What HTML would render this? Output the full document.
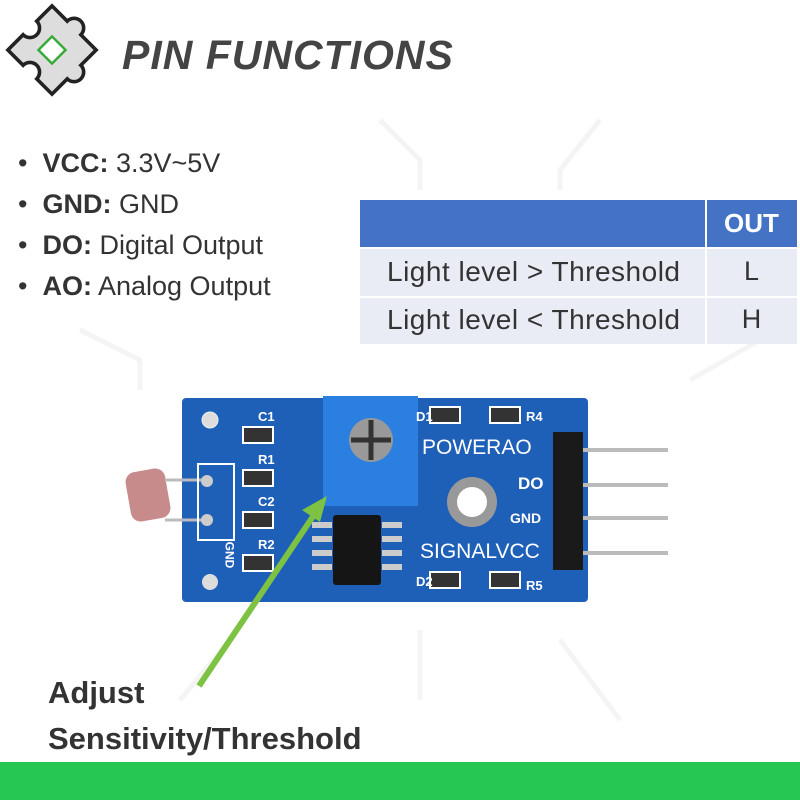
<!DOCTYPE html>
<html><head><meta charset="utf-8"><style>
body{margin:0;width:800px;height:800px;background:#fff;position:relative;overflow:hidden;font-family:"Liberation Sans",sans-serif}
.a{position:absolute}
.t{font-family:"Liberation Sans",sans-serif;color:#333;font-size:27px}
.w{color:#fff;font-weight:bold;font-size:13px;position:absolute;font-family:"Liberation Sans",sans-serif}
</style></head><body>
<svg class="a" style="left:0;top:0" width="800" height="800">
<g stroke="#f4f4f4" stroke-width="5" fill="none">
<path d="M380 120 L420 160 L420 190"/><path d="M600 120 L560 170 L560 190"/><path d="M80 330 L140 360 L140 390"/><path d="M690 380 L760 340"/><path d="M230 640 L180 700"/><path d="M560 640 L620 720"/><path d="M420 630 L420 700"/>
</g>
<g transform="translate(52,50) rotate(45) scale(1.2)">
<path d="M-26 -26 H-8 A8 8 0 1 1 8 -26 H26 V-8 A8 8 0 1 1 26 8 V26 H8 A8 8 0 1 0 -8 26 H-26 V8 A8 8 0 1 0 -26 -8 Z" fill="#ddd" stroke="#222" stroke-width="3"/>
<rect x="-8" y="-8" width="16" height="16" fill="#fff" stroke="#3a3" stroke-width="2"/>
</g>
<rect x="360" y="200" width="437" height="47" fill="#4472c4"/>
<rect x="360" y="249" width="437" height="47" fill="#e9ebf5"/>
<rect x="360" y="298" width="437" height="46" fill="#e9ebf5"/>
<line x1="706" y1="200" x2="706" y2="344" stroke="#fff" stroke-width="2"/>
<rect x="182" y="398" width="406" height="204" rx="4" fill="#1e5fb8"/>
<circle cx="210" cy="420" r="8" fill="#ddd" stroke="#eee"/><circle cx="210" cy="582" r="8" fill="#ddd"/>
<rect x="128" y="470" width="40" height="50" rx="10" fill="#c88b8b" transform="rotate(-10 148 495)"/>
<line x1="165" y1="480" x2="205" y2="480" stroke="#bbb" stroke-width="3"/><line x1="165" y1="520" x2="205" y2="520" stroke="#bbb" stroke-width="3"/>
<rect x="198" y="464" width="36" height="76" fill="none" stroke="#fff" stroke-width="2"/>
<circle cx="207" cy="481" r="6" fill="#ccc"/><circle cx="207" cy="520" r="6" fill="#ccc"/>
<g fill="#333" stroke="#fff" stroke-width="2"><rect x="243" y="427" width="30" height="16"/><rect x="243" y="470" width="30" height="16"/><rect x="243" y="512" width="30" height="16"/><rect x="243" y="555" width="30" height="16"/>
<rect x="430" y="407" width="30" height="16"/><rect x="490" y="407" width="30" height="16"/><rect x="430" y="572" width="30" height="16"/><rect x="490" y="572" width="30" height="16"/></g>
<rect x="323" y="396" width="95" height="110" fill="#2a7fe0"/>
<circle cx="371" cy="440" r="22" fill="#999"/><path d="M371 420 V460 M351 440 H391" stroke="#333" stroke-width="5"/>
<rect x="333" y="515" width="48" height="70" rx="3" fill="#151515"/>
<g fill="#ccc"><rect x="312" y="522" width="20" height="6"/><rect x="312" y="536" width="20" height="6"/><rect x="312" y="550" width="20" height="6"/><rect x="312" y="564" width="20" height="6"/><rect x="382" y="522" width="20" height="6"/><rect x="382" y="536" width="20" height="6"/><rect x="382" y="550" width="20" height="6"/><rect x="382" y="564" width="20" height="6"/></g>
<circle cx="472" cy="502" r="25" fill="#999"/><circle cx="472" cy="502" r="15" fill="#fff"/>
<g stroke="#bbb" stroke-width="4"><line x1="570" y1="450" x2="668" y2="450"/><line x1="570" y1="485" x2="668" y2="485"/><line x1="570" y1="518" x2="668" y2="518"/><line x1="570" y1="553" x2="668" y2="553"/></g>
<rect x="553" y="432" width="30" height="138" fill="#1a1a1a"/>
<line x1="199" y1="686" x2="316" y2="512" stroke="#7dc242" stroke-width="6"/>
<polygon points="327,496 302,510 320,522" fill="#7dc242"/>
<rect x="0" y="762" width="800" height="38" fill="#26c752"/>
</svg>
<div class="a" style="left:122px;top:32px;font-size:41px;font-weight:bold;font-style:italic;color:#444;letter-spacing:1px">PIN FUNCTIONS</div>
<div class="a t" style="left:18px;top:143px;line-height:41px">
<div>•&nbsp; <b>VCC:</b> 3.3V~5V</div><div>•&nbsp; <b>GND:</b> GND</div><div>•&nbsp; <b>DO:</b> Digital Output</div><div>•&nbsp; <b>AO:</b> Analog Output</div></div>
<div class="a" style="left:706px;top:208px;width:91px;text-align:center;color:#fff;font-weight:bold;font-size:26px">OUT</div>
<div class="a t" style="left:387px;top:256px;font-size:28px;letter-spacing:0.5px">Light level &gt; Threshold</div>
<div class="a t" style="left:706px;top:256px;width:91px;text-align:center">L</div>
<div class="a t" style="left:387px;top:304px;font-size:28px;letter-spacing:0.5px">Light level &lt; Threshold</div>
<div class="a t" style="left:706px;top:304px;width:91px;text-align:center">H</div>
<span class="w" style="left:258px;top:409px">C1</span><span class="w" style="left:258px;top:452px">R1</span><span class="w" style="left:258px;top:494px">C2</span><span class="w" style="left:258px;top:537px">R2</span>
<span class="w" style="left:416px;top:409px">D1</span><span class="w" style="left:526px;top:409px">R4</span><span class="w" style="left:416px;top:574px">D2</span><span class="w" style="left:526px;top:578px">R5</span>
<span class="w" style="left:422px;top:436px;font-size:21px;font-weight:normal">POWERAO</span>
<span class="w" style="left:518px;top:474px;font-size:17px">DO</span><span class="w" style="left:510px;top:510px;font-size:14px">GND</span>
<span class="w" style="left:420px;top:540px;font-size:21px;font-weight:normal">SIGNALVCC</span>
<span class="w" style="left:216px;top:548px;transform:rotate(90deg);font-size:12px">GND</span>
<div class="a" style="left:48px;top:670px;font-size:31px;font-weight:bold;color:#333;line-height:46px">Adjust<br>Sensitivity/Threshold</div>
</body></html>
